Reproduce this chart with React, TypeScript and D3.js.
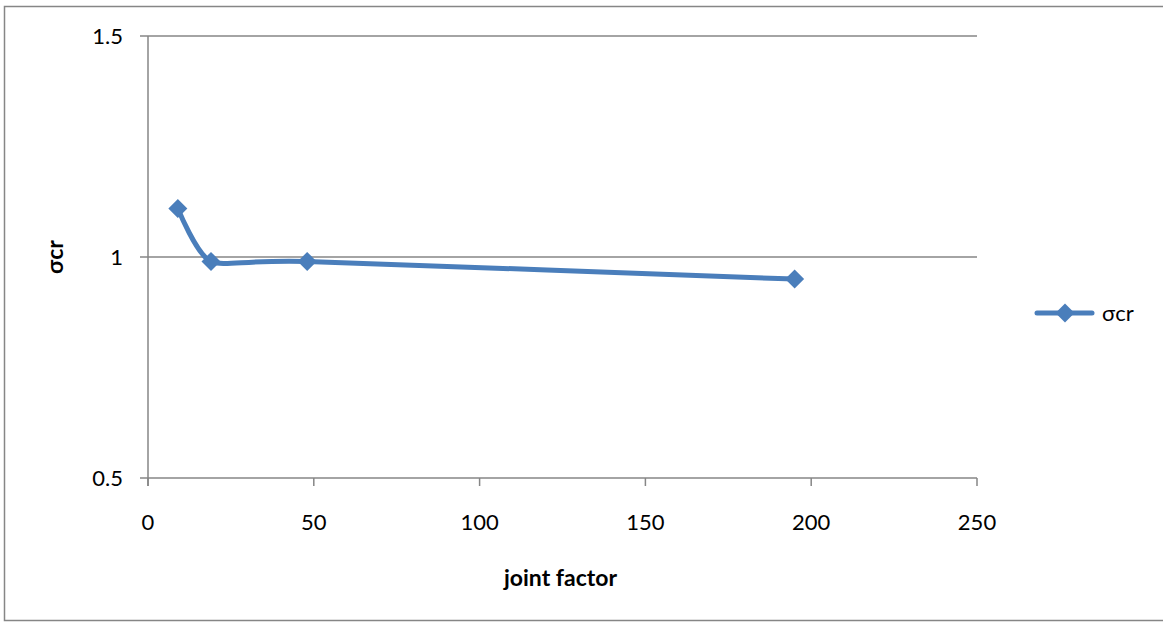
import * as d3 from 'd3';

const jointFactor: number[] = [9, 19, 48, 195];
const sigmaCr: number[] = [1.11, 0.99, 0.99, 0.95];
const xTicks: number[] = [0, 50, 100, 150, 200, 250];
const yTicks: number[] = [0.5, 1, 1.5];
const seriesName = 'σcr';

const W = 1163;
const H = 622;
const plot = { left: 148, right: 977, top: 36, bottom: 478 };
const font = 'Lato, "Open Sans", sans-serif';
const blue = '#4a7ebb';
const grey = '#868686';

export default function App() {
    const x = d3.scaleLinear().domain([0, 250]).range([plot.left, plot.right]);
    const y = d3.scaleLinear().domain([0.5, 1.5]).range([plot.bottom, plot.top]);

    const pts: [number, number][] = jointFactor.map((v, i) => [x(v), y(sigmaCr[i])]);
    // smoothed line, a bit tighter than plain Catmull-Rom so the dip stays small
    const line = d3.line().curve(d3.curveCardinal.tension(0.35));
    const path = line(pts) || '';

    const diamond = (cx: number, cy: number, r: number) =>
        `M${cx},${cy - r}L${cx + r},${cy}L${cx},${cy + r}L${cx - r},${cy}Z`;

    return (
        <svg width={W} height={H} style={{ position: 'absolute', left: 0, top: 0, background: '#fff' }}>
            {/* chart border */}
            <rect x={4.5} y={6.5} width={W + 10} height={614} fill="#fff" stroke={grey} strokeWidth={1.5} />

            {/* gridlines */}
            {yTicks.filter(t => t > 0.5).map(t => (
                <line key={'g' + t} x1={plot.left - 8} x2={plot.right} y1={y(t)} y2={y(t)} stroke={grey} strokeWidth={1.5} />
            ))}

            {/* axes */}
            <line x1={plot.left} x2={plot.left} y1={plot.top} y2={plot.bottom + 8} stroke={grey} strokeWidth={1.5} />
            <line x1={plot.left - 8} x2={plot.right} y1={plot.bottom} y2={plot.bottom} stroke={grey} strokeWidth={1.5} />
            {xTicks.map(t => (
                <g key={'x' + t}>
                    <line x1={x(t)} x2={x(t)} y1={plot.bottom} y2={plot.bottom + 8} stroke={grey} strokeWidth={1.5} />
                    <text x={x(t)} y={plot.bottom + 52} textAnchor="middle" fontFamily={font} fontSize={22} fill="#000">{t}</text>
                </g>
            ))}
            {yTicks.map(t => (
                <text key={'y' + t} x={123} y={y(t) + 8} textAnchor="end" fontFamily={font} fontSize={22} fill="#000">{t}</text>
            ))}

            {/* axis titles */}
            <text x={(plot.left + plot.right) / 2 - 2} y={586} textAnchor="middle" fontFamily={font} fontSize={23} fontWeight="bold" fill="#000">joint factor</text>
            <text transform={`translate(63,${y(1)}) rotate(-90)`} textAnchor="middle" fontFamily={font} fontSize={23} fontWeight="bold" fill="#000">{seriesName}</text>

            {/* series */}
            <path d={path} fill="none" stroke={blue} strokeWidth={5} strokeLinejoin="round" strokeLinecap="round" />
            {pts.map(([px, py], i) => (
                <path key={'m' + i} d={diamond(px, py, 9.5)} fill={blue} />
            ))}

            {/* legend */}
            <line x1={1037} x2={1092} y1={313} y2={313} stroke={blue} strokeWidth={5} strokeLinecap="round" />
            <path d={diamond(1065, 313, 9.5)} fill={blue} />
            <text x={1102} y={321} fontFamily={font} fontSize={22} fill="#000">{seriesName}</text>
        </svg>
    );
}
